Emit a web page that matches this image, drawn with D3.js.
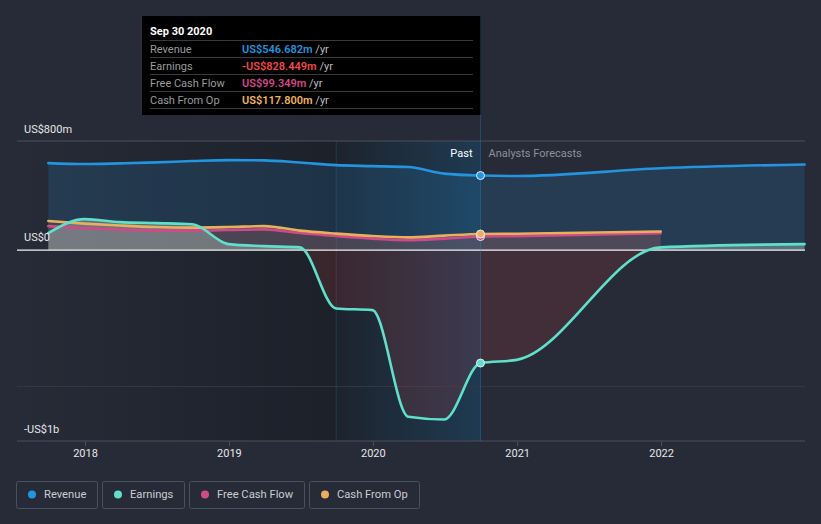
<!DOCTYPE html>
<html><head><meta charset="utf-8">
<script src="https://cdn.jsdelivr.net/npm/d3@7/dist/d3.min.js"></script>
<style>
html,body{margin:0;padding:0;background:#262b37;}
svg{display:block;font-family:Roboto,"Noto Sans",sans-serif;}
</style></head>
<body><svg id="c" width="821" height="524"></svg>
<script>
// ---- data ----
const pastDates = ["2017-09-30","2017-12-31","2018-03-31","2018-06-30","2018-09-30","2018-12-31","2019-03-31","2019-06-30","2019-09-30","2019-12-31","2020-03-31","2020-06-30","2020-09-30"];
const revenuePast  = [638, 631, 636, 643, 653, 660, 658, 642, 623, 616, 609, 561, 546.682];
const earningsPast = [125, 227, 205, 198, 190, 44, 29, 20, -428, -440, -1222, -1242, -828.449];
const fcfPast      = [176, 161, 150, 143, 143, 147, 152, 125, 103, 84, 73, 84, 99.349];
const cfoPast      = [213, 194, 180, 169, 165, 169, 176, 143, 121, 103, 93, 106, 117.8];
const forecastDates = ["2020-12-31","2021-12-31","2022-12-31"];
const revenueForecast  = [543, 600, 628];
const earningsForecast = [-805, 20, 44];
const fcfForecast      = [102, 124];
const cfoForecast      = [120, 136];
const yearTicks = ["2018","2019","2020","2021","2022"];
const yTickValues = [800, 0, -1000];
const yTickLabels = ["US$800m", "US$0", "-US$1b"];
const seriesNames = ["Revenue","Earnings","Free Cash Flow","Cash From Op"];
const seriesColors = ["#2394df","#5fe0cb","#cf4a8a","#eaaf5c"];
const tipDate = "Sep 30 2020";
const tipValues = ["US$546.682m","-US$828.449m","US$99.349m","US$117.800m"];
const tipColors = ["#2394df","#f04848","#d4478b","#f0b35c"];
const bandStart = "2019-09-30", nowDate = "2020-09-30";

const parse = d3.timeParse("%Y-%m-%d");
function build(dates, vals){ return vals.map((v,i)=>({d:parse(dates[i]), v})); }
const revenue = build(pastDates.concat(forecastDates), revenuePast.concat(revenueForecast));
const earnings = build(pastDates.concat(forecastDates), earningsPast.concat(earningsForecast));
const fcf = build(pastDates.concat(forecastDates), fcfPast.concat(fcfForecast));
const cfo = build(pastDates.concat(forecastDates), cfoPast.concat(cfoForecast));

const svg = d3.select("#c");
const L = 17, R = 805, T = 141, B = 441;
const x = d3.scaleTime().domain([parse("2018-01-01"), parse("2023-01-01")]).range([85, 805]);
const y = d3.scaleLinear().domain([-1400, 800]).range([B, T]);

const defs = svg.append("defs");
const g1 = defs.append("linearGradient").attr("id","pastGrad").attr("x1","0").attr("x2","1").attr("y1","0").attr("y2","0");
g1.append("stop").attr("offset","0").attr("stop-color","#000").attr("stop-opacity",0);
g1.append("stop").attr("offset","1").attr("stop-color","#000").attr("stop-opacity",0.25);
const g2 = defs.append("linearGradient").attr("id","bandGrad").attr("x1","0").attr("x2","1").attr("y1","0").attr("y2","0");
g2.append("stop").attr("offset","0").attr("stop-color","#2394df").attr("stop-opacity",0.02);
g2.append("stop").attr("offset","1").attr("stop-color","#2394df").attr("stop-opacity",0.22);
defs.append("clipPath").attr("id","clipPos").append("rect").attr("x",0).attr("y",0).attr("width",821).attr("height",y(0));
defs.append("clipPath").attr("id","clipNeg").append("rect").attr("x",0).attr("y",y(0)).attr("width",821).attr("height",524);

const xb = x(parse(bandStart)), xn = x(parse(nowDate));
// past darkening
svg.append("rect").attr("x",L).attr("y",T).attr("width",xb-L).attr("height",B-T).attr("fill","url(#pastGrad)");
svg.append("rect").attr("x",xb).attr("y",T).attr("width",xn-xb).attr("height",B-T).attr("fill","#000").attr("opacity",0.22);
svg.append("rect").attr("x",xb).attr("y",T).attr("width",xn-xb).attr("height",B-T).attr("fill","url(#bandGrad)");
svg.append("line").attr("x1",xb).attr("x2",xb).attr("y1",T).attr("y2",B).attr("stroke","#2394df").attr("stroke-opacity",0.22).attr("stroke-width",1);

// gridlines
svg.append("line").attr("x1",L).attr("x2",R).attr("y1",y(800)).attr("y2",y(800)).attr("stroke","#4a505c").attr("stroke-width",1);
svg.append("line").attr("x1",L).attr("x2",R).attr("y1",y(-1000)).attr("y2",y(-1000)).attr("stroke","#333946").attr("stroke-width",1);

const curve = d3.curveMonotoneX;
const area = d3.area().x(p=>x(p.d)).y0(y(0)).y1(p=>y(p.v)).curve(curve);
const line = d3.line().x(p=>x(p.d)).y(p=>y(p.v)).curve(curve);

svg.append("path").attr("d",area(revenue)).attr("fill","#2394df").attr("fill-opacity",0.16);
svg.append("path").attr("d",area(cfo)).attr("fill","#eaaf5c").attr("fill-opacity",0.12);
svg.append("path").attr("d",area(fcf)).attr("fill","#cf4a8a").attr("fill-opacity",0.12);
svg.append("path").attr("d",area(earnings)).attr("fill","#c8e0d4").attr("fill-opacity",0.33).attr("clip-path","url(#clipPos)");
svg.append("path").attr("d",area(earnings)).attr("fill","#e64141").attr("fill-opacity",0.15).attr("clip-path","url(#clipNeg)");

// axis line
svg.append("line").attr("x1",L).attr("x2",R).attr("y1",B).attr("y2",B).attr("stroke","#4a505c").attr("stroke-width",1);
// zero line
svg.append("line").attr("x1",L).attr("x2",R).attr("y1",y(0)).attr("y2",y(0)).attr("stroke","#f2f2f2").attr("stroke-width",1.3);

// now line
svg.append("line").attr("x1",xn).attr("x2",xn).attr("y1",16).attr("y2",B).attr("stroke","#2394df").attr("stroke-opacity",0.3).attr("stroke-width",1);

[[revenue,0],[fcf,2],[cfo,3],[earnings,1]].forEach(([s,i])=>{
  svg.append("path").attr("d",line(s)).attr("fill","none").attr("stroke",seriesColors[i]).attr("stroke-width",2.6).attr("stroke-linecap","round");
});

// markers at now
[[revenue,0],[earnings,1],[fcf,2],[cfo,3]].forEach(([s,i])=>{
  const p = s.find(q=>+q.d===+parse(nowDate));
  svg.append("circle").attr("cx",x(p.d)).attr("cy",y(p.v)).attr("r",4).attr("fill",seriesColors[i]).attr("stroke","#e8eef5").attr("stroke-width",1);
});

// y labels
yTickValues.forEach((v,i)=>{
  const yy = i===2 ? B-8 : (i===1 ? y(v)-9 : y(v)-8);
  svg.append("text").attr("x",24).attr("y",yy).attr("fill","#e6e6e6").attr("font-size",11).text(yTickLabels[i]);
});
// x ticks
const xAxis = svg.append("g").attr("transform",`translate(0,${B})`)
  .call(d3.axisBottom(x).tickValues(yearTicks.map(t=>parse(t+"-01-01"))).tickFormat(d3.timeFormat("%Y")).tickSize(5).tickPadding(3));
xAxis.select(".domain").remove();
xAxis.selectAll("line").attr("stroke","#4a505c");
xAxis.selectAll("text").attr("fill","#e6e6e6").attr("font-size",11).attr("font-family","Roboto,sans-serif");

// Past / forecast
svg.append("text").attr("x",xn-8).attr("y",157).attr("text-anchor","end").attr("fill","#ffffff").attr("font-size",11).text("Past");
svg.append("text").attr("x",xn+8).attr("y",157).attr("fill","#8b909a").attr("font-size",11).text("Analysts Forecasts");

// tooltip
const tip = svg.append("g");
tip.append("rect").attr("x",142).attr("y",16).attr("width",xn-142).attr("height",99).attr("fill","#000");
tip.append("text").attr("x",150).attr("y",35).attr("fill","#fff").attr("font-size",11).attr("font-weight","bold").text(tipDate);
seriesNames.forEach((n,i)=>{
  const ly = 40 + i*17;
  tip.append("line").attr("x1",150).attr("x2",473).attr("y1",ly+0.5).attr("y2",ly+0.5).attr("stroke","#3a3a3a");
  const ty = ly + 12.5;
  tip.append("text").attr("x",150).attr("y",ty).attr("fill","#9a9a9a").attr("font-size",11).text(n);
  const t = tip.append("text").attr("x",242).attr("y",ty).attr("font-size",11);
  t.append("tspan").attr("fill",tipColors[i]).attr("font-weight",600).text(tipValues[i]);
  t.append("tspan").attr("fill","#bdbdbd").text(" /yr");
});
tip.append("line").attr("x1",150).attr("x2",473).attr("y1",108.5).attr("y2",108.5).attr("stroke","#3a3a3a");

// legend
let lx = 16;
seriesNames.forEach((n,i)=>{
  const g = svg.append("g");
  const txt = g.append("text").attr("x",lx+28).attr("y",498).attr("fill","#c9ccd2").attr("font-size",11.2).text(n);
  const w = txt.node().getComputedTextLength();
  const bw = Math.round(w + 39);
  g.insert("rect","text").attr("x",lx+0.5).attr("y",481.5).attr("width",bw).attr("height",27).attr("rx",2).attr("fill","none").attr("stroke","#4a505c");
  g.append("circle").attr("cx",lx+16).attr("cy",494.5).attr("r",4).attr("fill",seriesColors[i]);
  lx += bw + 5;
});
</script></body></html>
